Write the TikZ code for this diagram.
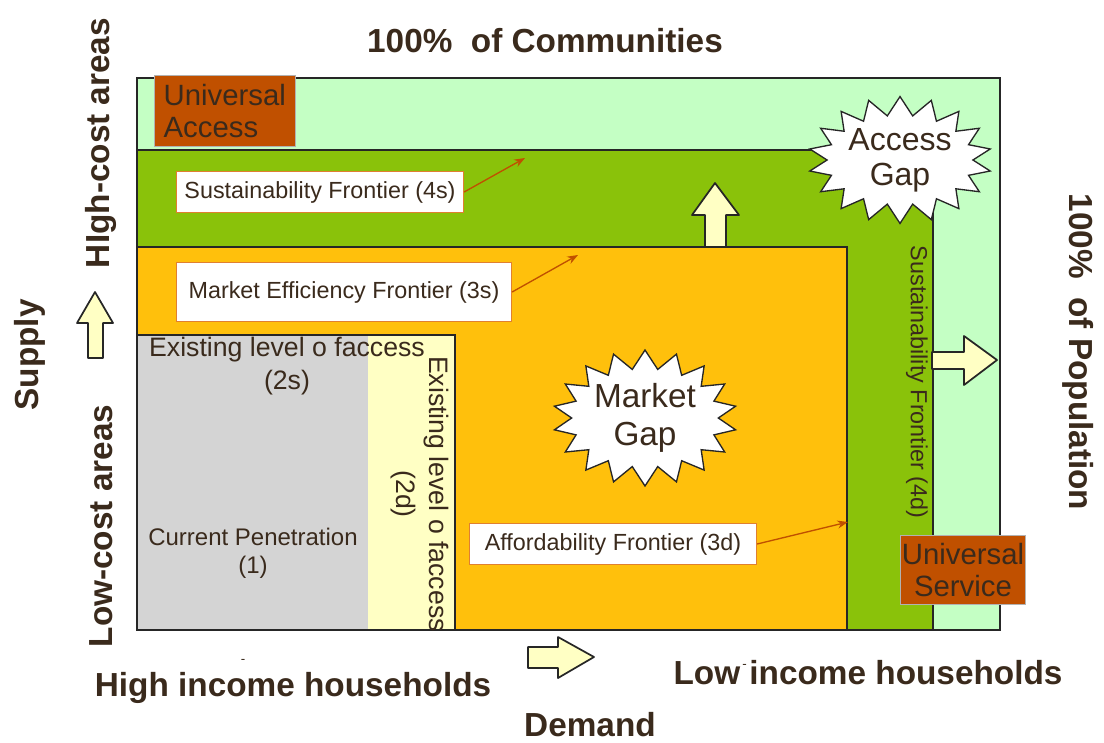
\documentclass[tikz,border=0pt]{standalone}
\usepackage{fontspec}
\setmainfont{Liberation Sans}
\usepackage{xcolor}
\usetikzlibrary{shapes,shapes.symbols,arrows.meta,positioning}

\definecolor{paleground}{RGB}{196,255,196}
\definecolor{grass}{RGB}{138,194,10}
\definecolor{amber}{RGB}{255,192,12}
\definecolor{coregray}{RGB}{212,212,212}
\definecolor{paleyellow}{RGB}{255,255,196}
\definecolor{uniorange}{RGB}{192,80,0}
\definecolor{frontline}{RGB}{224,128,48}
\definecolor{txt}{RGB}{58,42,28}

\tikzset{
  edge/.style={draw=black!85, line width=1.2pt},
  frontier/.style={draw=frontline, line width=1.2pt, fill=white, text=txt,
    font=\fontsize{17.5}{22}\selectfont, inner sep=2pt},
  unibox/.style={draw=black!30, line width=0.8pt, fill=uniorange, text=txt,
    font=\fontsize{22}{24}\selectfont, inner sep=0pt},
  gapstar/.style={starburst, starburst points=18, random starburst=0,
    starburst point height=14pt, draw=black!85, line width=1pt, fill=white,
    text=txt, align=center, inner sep=0pt},
  pointer/.style={-{Stealth[length=8pt,width=6pt]}, draw=uniorange, line width=1pt},
  bigarrow/.style={draw=black!85, line width=1.3pt, fill=paleyellow, line join=round},
  axislabel/.style={text=txt, font=\bfseries\fontsize{25}{28}\selectfont, inner sep=1pt},
  arealabel/.style={text=txt, font=\fontsize{17.5}{24}\selectfont, align=center}
}

\begin{document}
\begin{tikzpicture}[x=0.75pt,y=-0.75pt]
    \useasboundingbox (0,0) rectangle (1104,743);

    % Nested areas
    \draw[edge, fill=paleground] (137,78) rectangle (1000,630);
    \draw[edge, fill=grass] (137,150) rectangle (933,630);
    \draw[edge, fill=amber] (137,247) rectangle (847,630);
    \draw[edge, fill=paleyellow] (137,335) rectangle (455,630);
    \fill[coregray] (138,336) rectangle (368,629);

    % Block arrows
    \draw[bigarrow] (705,247) -- (705,215) -- (692,215) -- (715,183) -- (739,215) -- (726,215) -- (726,247) -- cycle;
    \draw[bigarrow] (932,352) -- (964,352) -- (964,336) -- (997,360) -- (964,385) -- (964,369) -- (932,369) -- cycle;
    \draw[bigarrow] (88,358) -- (88,323) -- (77,323) -- (95,292) -- (113,323) -- (103,323) -- (103,358) -- cycle;
    \draw[bigarrow] (528,647) -- (558,647) -- (558,637) -- (594,657) -- (558,678) -- (558,668) -- (528,668) -- cycle;

    % Area texts
    \node[arealabel, font=\fontsize{20}{25}\selectfont] (access2s) at (287,366) {Existing level o faccess\\(2s)};
    \node[arealabel, font=\fontsize{18}{21}\selectfont] (penetration) at (253,553) {Current Penetration\\(1)};
    \node[arealabel, rotate=-90, font=\fontsize{20}{25}\selectfont] (access2d) at (420,494) {Existing level o faccess\\(2d)};
    \node[arealabel, rotate=-90] (front4d) at (917,382) {Sustainability Frontier (4d)};

    % Frontier labels
    \node[frontier, minimum width=215pt, minimum height=31pt] (front4s) at (320,192) {Sustainability Frontier (4s)};
    \node[frontier, minimum width=251pt, minimum height=44pt] (front3s) at (344,292) {Market Efficiency Frontier (3s)};
    \node[frontier, minimum width=215pt, minimum height=31pt] (front3d) at (613,544) {Affordability Frontier (3d)};
    \coordinate (tip4s) at (525,158);
    \coordinate (tip3s) at (578,255);
    \coordinate (tip3d) at (848,522);
    \draw[pointer] (front4s.east) -- (tip4s);
    \draw[pointer] (front3s.east) -- (tip3s);
    \draw[pointer] (front3d.east) -- (tip3d);

    % Universal boxes
    \node[unibox, minimum width=106pt, minimum height=53pt, text width=92pt, align=left] (uniaccess) at (225,111) {Universal\\Access};
    \node[unibox, minimum width=94pt, minimum height=52pt, align=center] (uniservice) at (963,570) {Universal\\Service};

    % Gaps
    \node[gapstar, minimum width=130pt, minimum height=90pt, font=\fontsize{24}{26}\selectfont] (accessgap) at (900,160) {Access\\Gap};
    \node[gapstar, minimum width=138pt, minimum height=96pt, font=\fontsize{25}{29}\selectfont] (marketgap) at (645,418) {Market\\Gap};

    % Axis labels
    \node[axislabel] (communities) at (545,41) {100\%\ \ of Communities};
    \node[axislabel, rotate=-90] (population) at (1078,352) {100\%\ \ of Population};
    \node[axislabel, rotate=90] (highcost) at (101,143) {HIgh-cost areas};
    \node[axislabel, rotate=90] (supply) at (30,355) {Supply};
    \node[axislabel, rotate=90] (lowcost) at (101,526) {Low-cost areas};
    \node[axislabel] (highincome) at (293,688) {High income households};
    \node[axislabel] (demand) at (590,725) {Demand};
    \node[axislabel] (lowincome) at (868,673) {Low\makebox[0pt][l]{\raisebox{12pt}{\mdseries\fontsize{10}{10}\selectfont\,-}} income households};
    \node[text=txt, font=\fontsize{10}{10}\selectfont, inner sep=0pt] (dashhigh) at (243,661) {-};
\end{tikzpicture}
\end{document}
